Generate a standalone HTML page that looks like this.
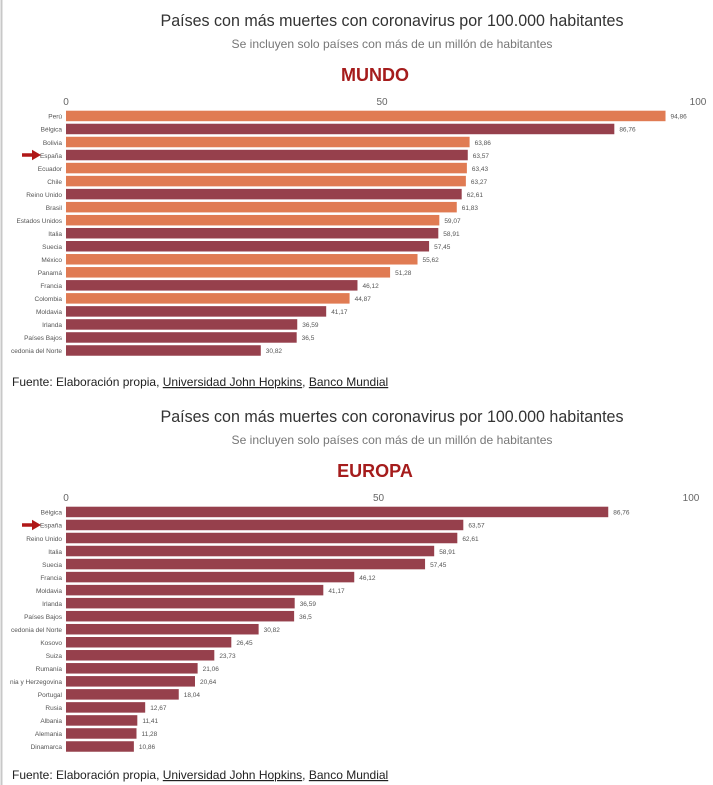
<!DOCTYPE html>
<html><head><meta charset="utf-8"><style>
html,body{margin:0;padding:0;background:#fff;}
svg{display:block;font-family:"Liberation Sans",sans-serif;}
</style></head><body>
<svg id="page" width="713" height="785" viewBox="0 0 713 785" xmlns="http://www.w3.org/2000/svg">
<rect x="0" y="0" width="713" height="785" fill="#fff"/>
<line x1="1.5" y1="0" x2="1.5" y2="785" stroke="#c8c8c8" stroke-width="2"/>
<g id="chart1"></g>
<g id="chart2"></g>
</svg>
<script>
const mundoCountries=["Perú","Bélgica","Bolivia","España","Ecuador","Chile","Reino Unido","Brasil","Estados Unidos","Italia","Suecia","México","Panamá","Francia","Colombia","Moldavia","Irlanda","Países Bajos","cedonia del Norte"];
const mundoValues=[94.86,86.76,63.86,63.57,63.43,63.27,62.61,61.83,59.07,58.91,57.45,55.62,51.28,46.12,44.87,41.17,36.59,36.5,30.82];
const mundoIsEurope=[0,1,0,1,0,0,1,0,0,1,1,0,0,1,0,1,1,1,1];
const europaCountries=["Bélgica","España","Reino Unido","Italia","Suecia","Francia","Moldavia","Irlanda","Países Bajos","cedonia del Norte","Kosovo","Suiza","Rumanía","nia y Herzegovina","Portugal","Rusia","Albania","Alemania","Dinamarca"];
const europaValues=[86.76,63.57,62.61,58.91,57.45,46.12,41.17,36.59,36.5,30.82,26.45,23.73,21.06,20.64,18.04,12.67,11.41,11.28,10.86];
const tickValues=[0,50,100];
const NS="http://www.w3.org/2000/svg";
function mk(tag,attrs,parent,txt){const e=document.createElementNS(NS,tag);for(const k in attrs)e.setAttribute(k,attrs[k]);if(txt!==undefined)e.textContent=txt;parent.appendChild(e);return e;}
function fmt(v){return String(v).replace('.',',');}
function draw(g,y0,region,cats,vals,isEu,pxPerUnit,barTop,srcY){
  const x=v=>66+v*pxPerUnit;
  const t=mk('text',{x:392,y:y0+26,'text-anchor':'middle','font-size':17,fill:'#333',textLength:463,lengthAdjust:'spacingAndGlyphs'},g,'Países con más muertes con coronavirus por 100.000 habitantes');
  
  const s=mk('text',{x:392,y:y0+48,'text-anchor':'middle','font-size':12,fill:'#777',textLength:321,lengthAdjust:'spacingAndGlyphs'},g,'Se incluyen solo países con más de un millón de habitantes');
  
  const r=mk('text',{x:375,y:y0+81,'text-anchor':'middle','font-size':18,'font-weight':'bold',fill:'#a51c1c'},g,region);
  
  tickValues.forEach(tv=>{const e=mk('text',{x:x(tv),y:y0+105,'text-anchor':'middle','font-size':10,fill:'#666'},g,tv);
    });
  cats.forEach((c,i)=>{
    const by=barTop+i*13.03;
    const col=isEu?(isEu[i]?'#96404c':'#e07b53'):'#96404c';
    const b=mk('rect',{x:66,y:by,width:x(vals[i])-66,height:10.5,fill:col},g);
    
    
    const l=mk('text',{x:62,y:by+8,'text-anchor':'end','font-size':6.5,fill:'#555'},g,c);
    
    const v=mk('text',{x:x(vals[i])+5,y:by+8,'font-size':6.5,fill:'#555'},g,fmt(vals[i]));
    
    if(c==='España'){
      const a=mk('path',{d:`M22 ${by+3.5} H32 V${by} L41 ${by+5.25} L32 ${by+10.5} V${by+7} H22 Z`,fill:'#b01818'},g);
      
    }
  });
  const f=mk('text',{x:12,y:srcY,'font-size':12,fill:'#222'},g);
  
  mk('tspan',{},f,'Fuente: Elaboración propia, ');
  const u1=mk('tspan',{'text-decoration':'underline'},f,'Universidad John Hopkins');
  
  mk('tspan',{},f,', ');
  const u2=mk('tspan',{'text-decoration':'underline'},f,'Banco Mundial');
  
}
draw(document.getElementById('chart1'),0,'MUNDO',mundoCountries,mundoValues,mundoIsEurope,6.32,110.7,386);
draw(document.getElementById('chart2'),396,'EUROPA',europaCountries,europaValues,null,6.25,506.7,779);
</script>
</body></html>
